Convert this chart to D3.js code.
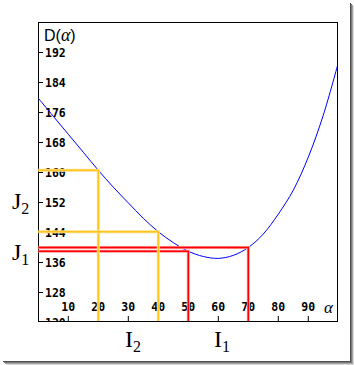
<!DOCTYPE html>
<html>
<head>
<meta charset="utf-8">
<script src="https://cdn.jsdelivr.net/npm/d3@7"></script>
<style>
body { margin: 0; background: #fff; }
</style>
</head>
<body>
<svg id="chart" width="354" height="365"></svg>
<script>

// curve D(alpha)
var alphaValues = [0, 5, 10, 15, 20, 25, 30, 35, 40, 45, 50, 55, 60, 65, 70, 75, 80, 85, 90, 95, 100];
var dValues = [179.8, 175.0, 170.2, 165.4, 160.6, 156.1, 151.9, 147.8, 144.2, 141.3, 139.0, 137.6, 137.1, 137.9, 140.0, 143.6, 148.9, 155.3, 164.1, 175.3, 189.3];

var xTicks = [10, 20, 30, 40, 50, 60, 70, 80, 90];
var yTicks = [120, 128, 136, 144, 152, 160, 168, 176, 184, 192];

// alphas that get the helper lines
var yellowAlpha = [20, 40];
var redAlpha = [50, 70];

var svg = d3.select("#chart");

// frame edges (not "top": that name is taken by window.top)
var fLeft = 38, fTop = 22, fRight = 337, fBottom = 321;

var xScale = d3.scaleLinear().domain([0, 100]).range([38.3, 338.3]);
var yScale = d3.scaleLinear().domain([120, 200]).range([322.5, 22.5]);

// drop shadow of the picture
var shade = ["#505050", "#7a7a7a", "#a6a6a6", "#d8d8d8"];
shade.forEach(function(c, i) {
    svg.append("rect").attr("x", 350 + i).attr("y", 3 + i).attr("width", 1).attr("height", 358).attr("fill", c);
    svg.append("rect").attr("x", 3 + i).attr("y", 361 + i).attr("width", 348).attr("height", 1).attr("fill", c);
});

svg.append("defs").append("clipPath")
    .attr("id", "plotClip")
    .append("rect")
    .attr("x", fLeft).attr("y", fTop)
    .attr("width", fRight - fLeft).attr("height", fBottom - fTop);

var tickFont = "'DejaVu Sans Mono', monospace";

// y axis ticks and labels (inside the frame)
var yAxis = svg.append("g").attr("clip-path", "url(#plotClip)");
yAxis.selectAll("line")
    .data(yTicks)
    .enter().append("line")
    .attr("x1", fLeft).attr("x2", fLeft + 5)
    .attr("y1", function(d) { return yScale(d); })
    .attr("y2", function(d) { return yScale(d); })
    .attr("stroke", "#000");
yAxis.selectAll("text")
    .data(yTicks)
    .enter().append("text")
    .attr("x", fLeft + 7)
    .attr("y", function(d) { return yScale(d); })
    .attr("dy", "0.36em")
    .style("font-family", tickFont)
    .style("font-weight", "bold")
    .style("font-size", "11.5px")
    .text(function(d) { return d; });

// x axis ticks and labels
var xAxis = svg.append("g");
xAxis.selectAll("line")
    .data(xTicks)
    .enter().append("line")
    .attr("x1", function(d) { return xScale(d); })
    .attr("x2", function(d) { return xScale(d); })
    .attr("y1", fBottom - 5).attr("y2", fBottom)
    .attr("stroke", "#000");
xAxis.selectAll("text")
    .data(xTicks)
    .enter().append("text")
    .attr("x", function(d) { return xScale(d); })
    .attr("y", 307)
    .attr("dy", "0.36em")
    .attr("text-anchor", "middle")
    .style("font-family", tickFont)
    .style("font-weight", "bold")
    .style("font-size", "11.5px")
    .text(function(d) { return d; });

svg.append("text")
    .attr("x", 324).attr("y", 312.5)
    .style("font-family", "'Liberation Serif', serif")
    .style("font-style", "italic")
    .style("font-size", "17px")
    .text("\u03b1");

// title D(alpha)
var title = svg.append("text")
    .attr("x", 44).attr("y", 41)
    .style("font-family", "'Liberation Sans', Arial, sans-serif")
    .style("font-size", "16px");
title.append("tspan").text("D(");
title.append("tspan")
    .style("font-family", "'Liberation Serif', serif")
    .style("font-style", "italic")
    .style("font-size", "18px")
    .text("\u03b1");
title.append("tspan").text(")");

// frame
svg.append("rect")
    .attr("x", fLeft + 0.5).attr("y", fTop + 0.5)
    .attr("width", fRight - fLeft).attr("height", fBottom - fTop)
    .attr("fill", "none")
    .attr("stroke", "#000");

var plot = svg.append("g").attr("clip-path", "url(#plotClip)");

var curve = alphaValues.map(function(a, i) { return [a, dValues[i]]; });
var line = d3.line()
    .x(function(d) { return xScale(d[0]); })
    .y(function(d) { return yScale(d[1]); })
    .curve(d3.curveCatmullRom);

plot.append("path")
    .datum(curve)
    .attr("d", line)
    .attr("fill", "none")
    .attr("stroke", "#0000ff")
    .attr("stroke-width", 1);

function dAt(a) {
    return dValues[alphaValues.indexOf(a)];
}

function guide(a, halo, core) {
    var pts = [[0, dAt(a)], [a, dAt(a)], [a, yScale.domain()[0]]];
    var gl = d3.line()
        .x(function(d) { return xScale(d[0]); })
        .y(function(d) { return yScale(d[1]); });
    plot.append("path").attr("d", gl(pts))
        .attr("fill", "none").attr("stroke", halo).attr("stroke-width", 3);
    plot.append("path").attr("d", gl(pts))
        .attr("fill", "none").attr("stroke", core).attr("stroke-width", 1.5);
}

redAlpha.forEach(function(a) { guide(a, "#ff9a9a", "#ff0000"); });
yellowAlpha.forEach(function(a) { guide(a, "#ffe08a", "#ffc41e"); });

// interval labels
var serif = "'Liberation Serif', 'Times New Roman', serif";
function label(x, y, main, sub) {
    var t = svg.append("text")
        .attr("x", x).attr("y", y)
        .style("font-family", serif)
        .style("font-size", "24px");
    t.append("tspan").text(main);
    t.append("tspan")
        .attr("dy", 5)
        .style("font-size", "16px")
        .text(sub);
}

label(12, 209, "J", "2");
label(12, 260, "J", "1");
label(125, 346.5, "I", "2");
label(214, 346.5, "I", "1");

</script>
</body>
</html>
